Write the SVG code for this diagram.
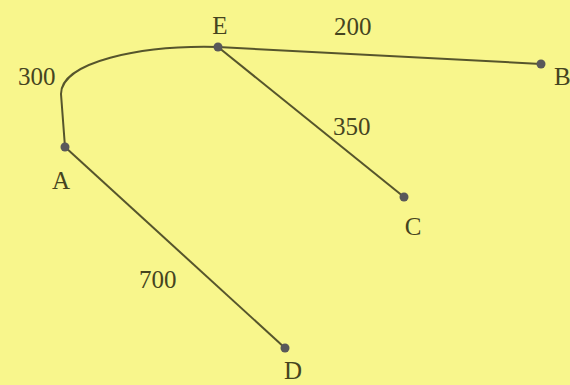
<svg xmlns="http://www.w3.org/2000/svg" width="570" height="385" viewBox="0 0 570 385">
<style>
.e{fill:none;stroke:#56552c;stroke-width:2}
.n{fill:#59585a}
.t{font-family:"Liberation Serif",serif;font-size:25px;fill:#45441f}
</style>
<rect width="570" height="385" fill="#f8f68c"/>
<g id="connectors">
<path class="e" d="M65,147 L61,94 C61,62 140,45 218,47"/>
<path class="e" d="M218,47 L541,64"/>
<path class="e" d="M218,47 L404,197"/>
<path class="e" d="M65,147 L285,348"/>
<text class="t" x="18" y="85">300</text>
<text class="t" x="334" y="35">200</text>
<text class="t" x="333" y="135">350</text>
<text class="t" x="139" y="288">700</text>
</g>
<g id="E"><circle class="n" cx="218" cy="47" r="4.5"/><text class="t" x="220" y="34" text-anchor="middle">E</text></g>
<g id="A"><circle class="n" cx="65" cy="147" r="4.5"/><text class="t" x="61" y="189" text-anchor="middle">A</text></g>
<g id="B"><circle class="n" cx="541" cy="64" r="4.5"/><text class="t" x="554" y="85">B</text></g>
<g id="C"><circle class="n" cx="404" cy="197" r="4.5"/><text class="t" x="413" y="235" text-anchor="middle">C</text></g>
<g id="D"><circle class="n" cx="285" cy="348" r="4.5"/><text class="t" x="293" y="379" text-anchor="middle">D</text></g>
</svg>
